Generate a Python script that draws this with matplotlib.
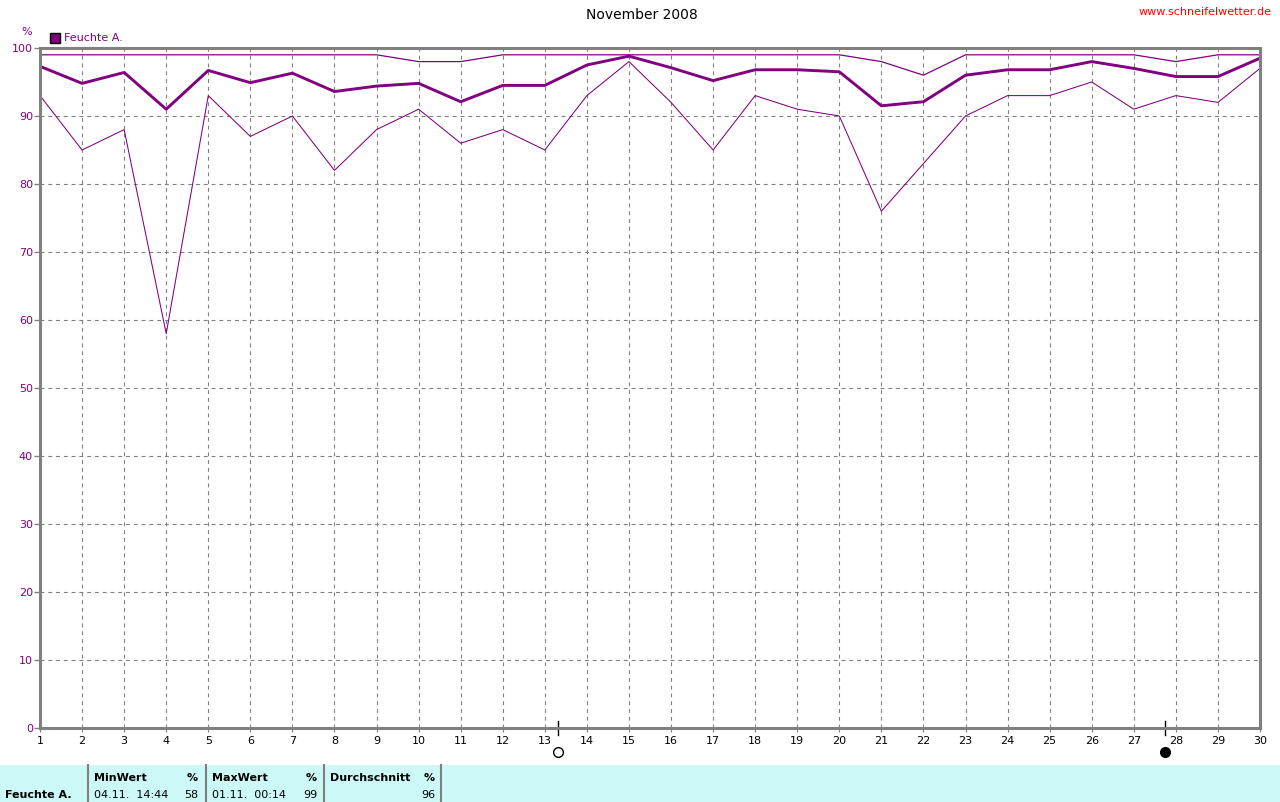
import matplotlib.pyplot as plt
import matplotlib.transforms as mtransforms
from matplotlib.patches import Rectangle

# Tageswerte November 2008, relative Feuchte in %
tage = list(range(1, 31))
feuchte_max = [99, 99, 99, 99, 99, 99, 99, 99, 99, 98, 98, 99, 99, 99, 99,
               99, 99, 99, 99, 99, 98, 96, 99, 99, 99, 99, 99, 98, 99, 99]
feuchte_mittel = [97.3, 94.8, 96.4, 91.0, 96.7, 94.9, 96.3, 93.6, 94.4, 94.8,
                  92.1, 94.5, 94.5, 97.5, 98.8, 97.1, 95.2, 96.8, 96.8, 96.5,
                  91.5, 92.1, 96.0, 96.8, 96.8, 98.0, 97.0, 95.8, 95.8, 98.5]
feuchte_min = [93, 85, 88, 58, 93, 87, 90, 82, 88, 91, 86, 88, 85, 93, 98,
               92, 85, 93, 91, 90, 76, 83, 90, 93, 93, 95, 91, 93, 92, 97]
vollmond = 13.31
neumond = 27.74

lila = '#800080'
grau = '#808080'

fig = plt.figure(figsize=(12.8, 8.02), dpi=100)
W, H = 1280, 802
ax = fig.add_axes([40 / W, (H - 728) / H, 1220 / W, 680 / H])

ax.plot(tage, feuchte_max, color=lila, lw=0.9)
ax.plot(tage, feuchte_min, color=lila, lw=0.75)
ax.plot(tage, feuchte_mittel, color=lila, lw=2.1)

ax.set_xlim(1, 30)
ax.set_ylim(0, 100)
ax.set_xticks(tage)
ax.set_yticks(range(0, 101, 10))
ax.tick_params(axis='x', length=3, width=0.8, color=grau, pad=3, labelsize=8,
               labelcolor='black')
ax.tick_params(axis='y', length=4, width=1, color=grau, pad=1, labelsize=8,
               labelcolor=lila)
for y in range(10, 100, 10):
    ax.axhline(y, color=grau, lw=0.8, ls=(0, (3.5, 3.5)), zorder=0)
for x in tage[1:-1]:
    ax.axvline(x, color=grau, lw=0.8, ls=(0, (3.5, 3.5)), zorder=0)
for s in ax.spines.values():
    s.set_color(grau)
    s.set_linewidth(2.2)

# Mondphasen unter der Achse
trans = mtransforms.blended_transform_factory(ax.transData, ax.transAxes)
for tag, fill in [(vollmond, 'white'), (neumond, 'black')]:
    ax.plot([tag, tag], [-0.01, 0.01], color='black', lw=1, transform=trans,
            clip_on=False)
    ax.plot(tag, -0.036, marker='o', ms=7, mfc=fill, mec='black', mew=1,
            transform=trans, clip_on=False)

fig.text(642 / W, 1 - 15 / H, 'November 2008', ha='center', va='center',
         fontsize=10, color='black')
fig.text(1272 / W, 1 - 12 / H, 'www.schneifelwetter.de', ha='right',
         va='center', fontsize=8, color='red')
fig.text(27 / W, 1 - 32 / H, '%', ha='center', va='center', fontsize=8,
         color=lila)
fig.patches.append(Rectangle((50 / W, 1 - 43 / H), 10 / W, 10 / H,
                             transform=fig.transFigure, facecolor=lila,
                             edgecolor='black', lw=1))
fig.text(64 / W, 1 - 38 / H, 'Feuchte A.', ha='left', va='center',
         fontsize=8, color=lila)

# Tabelle unten
fig.patches.append(Rectangle((0, 0), 1, 37 / H, transform=fig.transFigure,
                             facecolor='#ccf8f8', edgecolor='none'))
for xs in [88, 206, 324, 441]:
    fig.add_artist(plt.Line2D([xs / W, xs / W], [0, 37 / H], color=grau,
                              lw=1.5, transform=fig.transFigure))
y1 = 1 - 778 / H
y2 = 1 - 795 / H
fig.text(5 / W, y2, 'Feuchte A.', fontsize=8, weight='bold', va='center')
spalten = [(94, 198, 'MinWert', '04.11.  14:44', '58'),
           (212, 317, 'MaxWert', '01.11.  00:14', '99'),
           (330, 435, 'Durchschnitt', '', '96')]
for xl, xr, kopf, zeit, wert in spalten:
    fig.text(xl / W, y1, kopf, fontsize=8, weight='bold', va='center')
    fig.text(xr / W, y1, '%', fontsize=8, weight='bold', va='center',
             ha='right')
    fig.text(xl / W, y2, zeit, fontsize=8, va='center')
    fig.text(xr / W, y2, wert, fontsize=8, va='center', ha='right')

fig.savefig('out.png', dpi=100, facecolor='white')
